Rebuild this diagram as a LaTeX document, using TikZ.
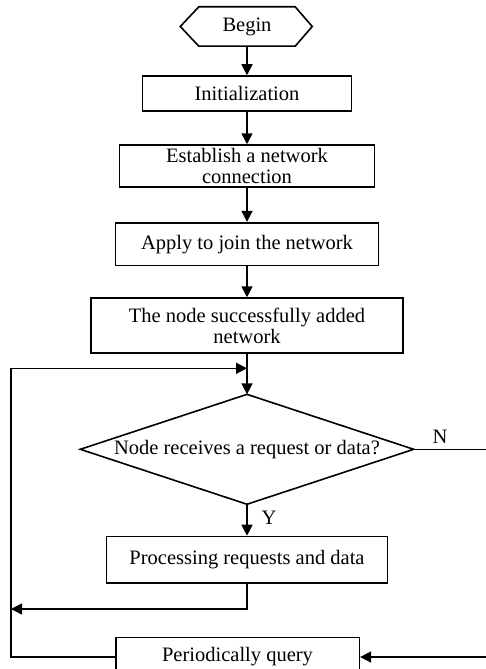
\documentclass[tikz,border=0pt]{standalone}
\usepackage{fontspec}
\setmainfont{Liberation Serif}
\usetikzlibrary{arrows.meta}

\tikzset{
  flow/.style={line width=1.6pt},
  arr/.style={flow, -{Triangle[length=11pt,width=11pt]}},
  stepbox/.style={draw, flow, rectangle, inner sep=0pt, align=center},
  txt/.style={font=\fontsize{20.5}{21}\selectfont},
}

\begin{document}
\begin{tikzpicture}[x=1pt, y=-1pt, txt]
  \useasboundingbox (0,0) rectangle (486,669);
  \clip (0,0) rectangle (486,669);

  % start terminal (hexagon)
  \node[inner sep=0pt, minimum width=96pt, minimum height=39pt] (begin) at (247,26.5) {Begin};
  \draw[flow] (begin.north west) -- (begin.north east) -- ([xshift=17pt]begin.east)
    -- (begin.south east) -- (begin.south west) -- ([xshift=-18.5pt]begin.west) -- cycle;

  % process steps
  \node[stepbox, minimum width=209pt, minimum height=34.7pt] (init) at (247,93.4) {Initialization};
  \node[stepbox, minimum width=255pt, minimum height=41.7pt] (est) at (247,165.9) {Establish a network\\connection};
  \node[stepbox, minimum width=262.7pt, minimum height=42.8pt] (apply) at (247,244.1) {Apply to join the network};
  \node[stepbox, minimum width=311.7pt, minimum height=54.7pt] (succ) at (247,325.4) {The node successfully added\\network};

  % decision (diamond drawn through the side midpoints of its box)
  \node[inner sep=0pt, minimum width=333pt, minimum height=109.5pt] (dia) at (247,449.3) {Node receives a request or data?};
  \draw[flow, line join=miter] (dia.north) -- (dia.east) -- (dia.south) -- (dia.west) -- cycle;

  \node[stepbox, minimum width=281.3pt, minimum height=46.2pt] (proc) at (247,559.6) {Processing requests and data};
  \node[stepbox, minimum width=243.6pt, minimum height=39pt] (per) at (237.5,657) {Periodically query};

  % branch labels
  \node (ylab) at (269,518) {Y};
  \node (nlab) at (440,437) {N};

  % routing points
  \coordinate (join) at (247,368.3);
  \coordinate (lt) at (11,368.3);
  \coordinate (lb) at (11,657);
  \coordinate (pd) at (247,609);
  \coordinate (pl) at (11,609);
  \coordinate (r1) at (500,449.3);
  \coordinate (r2) at (500,657);

  % main flow
  \draw[arr] (begin.south) -- (init.north);
  \draw[arr] (init.south) -- (est.north);
  \draw[arr] (est.south) -- (apply.north);
  \draw[arr] (apply.south) -- (succ.north);
  \draw[arr] (succ.south) -- (dia.north);
  \draw[arr] (dia.south) -- (proc.north);

  % loops
  \draw[arr] (proc.south) -- (pd) -- (pl);
  \draw[arr] (per.west) -- (lb) -- (lt) -- (join);
  \draw[arr] (dia.east) -- (r1) -- (r2) -- (per.east);
\end{tikzpicture}
\end{document}
